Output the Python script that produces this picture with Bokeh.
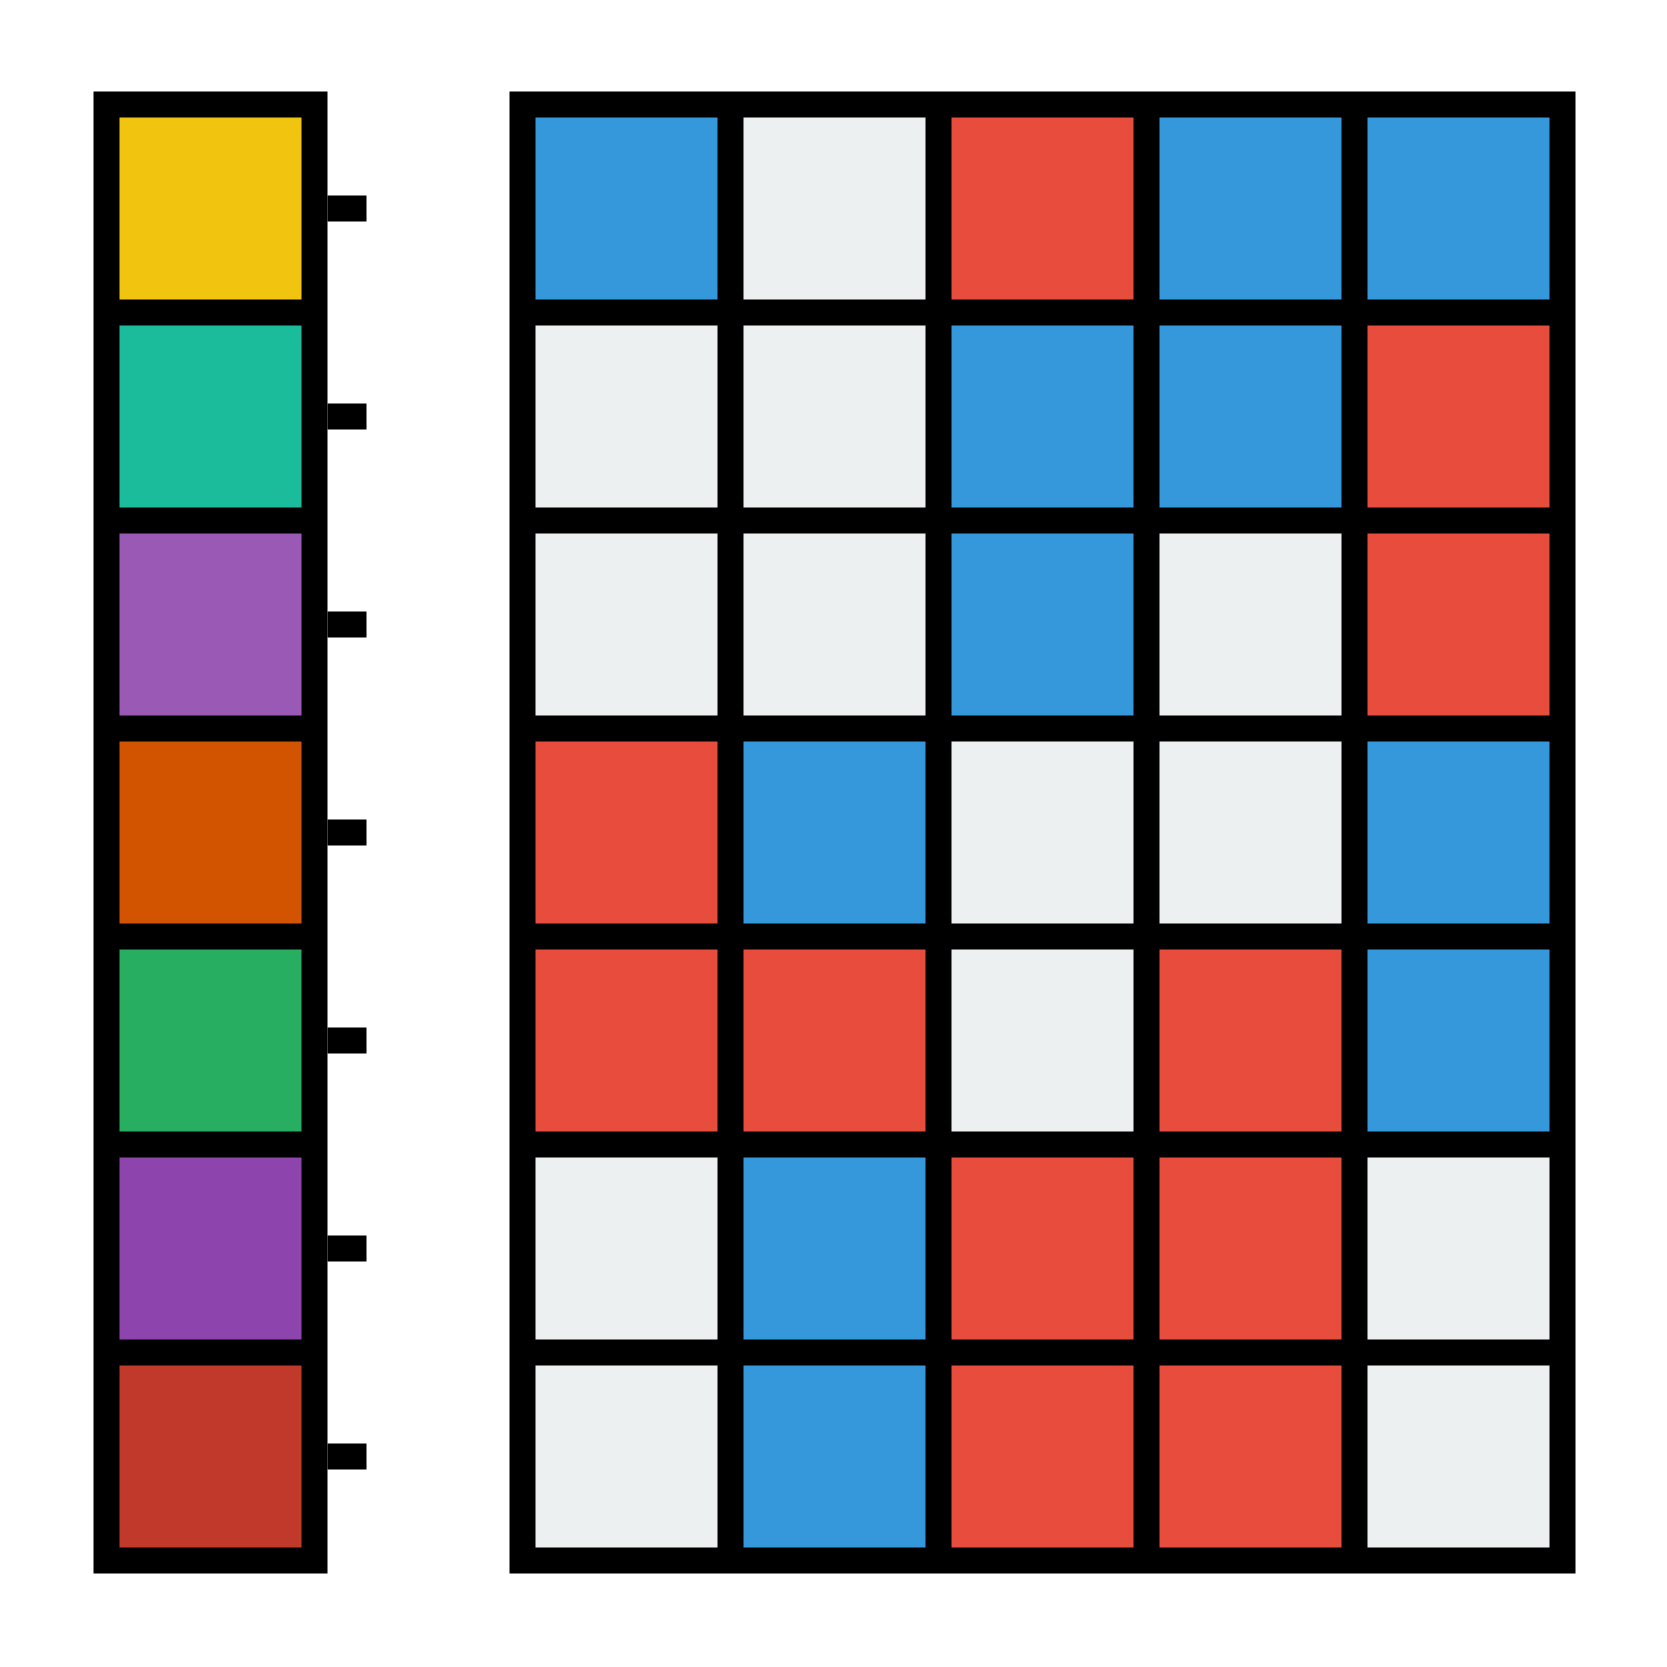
from bokeh.plotting import figure
from bokeh.layouts import row
from bokeh.models import Range1d, FixedTicker, ColumnDataSource
from bokeh.embed import file_html
from bokeh.resources import INLINE

# ---- data ----
left_colors = ["#f1c40f", "#1abc9c", "#9b59b6", "#d35400", "#27ae60", "#8e44ad", "#c0392b"]

# states per row (top to bottom): 1 = blue, 0 = light, -1 = red
cells = [
    [1, 0, -1, 1, 1],
    [0, 0, 1, 1, -1],
    [0, 0, 1, 0, -1],
    [-1, 1, 0, 0, 1],
    [-1, -1, 0, -1, 1],
    [0, 1, -1, -1, 0],
    [0, 1, -1, -1, 0],
]
state_colors = {1: "#3498db", 0: "#ecf0f1", -1: "#e74c3c"}

n_rows = len(left_colors)
n_cols = len(cells[0])
PAD = 0.0625
STROKE = 26
CELL_PX = 182


def base_fig(ncols, fw, ml, mr, yloc):
    p = figure(frame_width=fw, frame_height=1482, min_border_left=ml, min_border_right=mr,
               min_border_top=91, min_border_bottom=94,
               x_axis_location=None, y_axis_location=yloc,
               toolbar_location=None, output_backend="svg",
               x_range=Range1d(-PAD, ncols + PAD),
               y_range=Range1d(n_rows + PAD, -PAD))
    p.outline_line_color = None
    p.xgrid.visible = False
    p.ygrid.visible = False
    p.background_fill_color = "black"
    p.border_fill_color = "white"
    return p


# left panel
p1 = base_fig(1, 234, 93, 182, "right")
src1 = ColumnDataSource(dict(x=[0.5] * n_rows, y=[i + 0.5 for i in range(n_rows)], c=left_colors))
p1.rect(x="x", y="y", width=CELL_PX, height=CELL_PX, width_units="screen", height_units="screen",
        source=src1, fill_color="c", line_color=None)
ax = p1.yaxis[0]
ax.ticker = FixedTicker(ticks=[i + 0.5 for i in range(n_rows)])
ax.axis_line_color = None
ax.major_tick_line_color = "black"
ax.major_tick_line_width = STROKE
ax.major_tick_in = 0
ax.major_tick_out = 39
ax.minor_tick_line_color = None
ax.major_label_text_font_size = "0px"

# right panel
p2 = base_fig(n_cols, 1066, 0, 92, None)
xs, ys, cs = [], [], []
for r, vals in enumerate(cells):
    for c, v in enumerate(vals):
        xs.append(c + 0.5)
        ys.append(r + 0.5)
        cs.append(state_colors[v])
src2 = ColumnDataSource(dict(x=xs, y=ys, c=cs))
p2.rect(x="x", y="y", width=CELL_PX, height=CELL_PX, width_units="screen", height_units="screen",
        source=src2, fill_color="c", line_color=None)

layout = row(p1, p2, spacing=0)
open("out.html", "w").write(file_html(layout, INLINE))
